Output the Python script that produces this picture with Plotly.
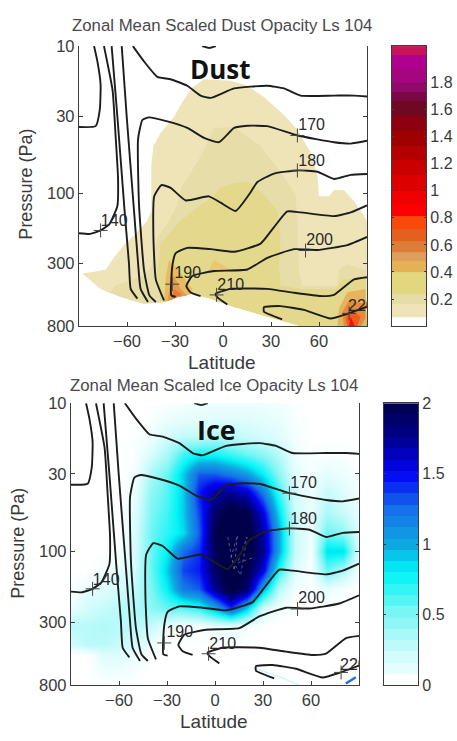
import plotly.graph_objects as go

W, H = 457, 741

# ---------- temperature contours (shared by both panels): latitude, pressure ----------
c140a_lat = [-90, -79.6, -77, -76.5, -78.5, -80.6]
c140a_p = [35.5, 35, 27, 18.2, 12.7, 10]
c140b_lat = [-90, -83, -76.5, -71, -66, -65.6, -67, -69, -74.4]
c140b_p = [187, 189, 179, 162, 122, 79, 43, 20, 10]
c150a_lat = [-69.6, -66, -61.5, -58.8, -57.7, -53.5]
c150a_p = [10, 30.2, 132, 297, 447, 520]
c150b_lat = [-63.3, -60.2, -55.6, -53.1, -51.5, -46.9]
c150b_p = [10, 30, 132, 297, 447, 549]
c160_lat = [-56.3, -49.4, -41, -32.7, -22.3, -14, -7.7, 6.9, 27.7, 38.1, 48.5, 69.4, 81.9, 90]
c160_p = [10, 12.7, 16.2, 16.8, 18.6, 21.7, 22.5, 19.4, 18.6, 19.4, 21.7, 21.7, 21.7, 22]
c160top_lat = [-13, -8.5, -4.5]
c160top_p = [10, 10.3, 10]
c170_lat = [-42, -46, -49.4, -52.5, -53.1, -50.4, -46.3, -34.8, -22.3, -11.9, -2.5, 6.9, 15.2, 27.7, 46.5, 69.4, 79.8, 90]
c170_p = [549, 495, 330, 119, 43, 31.8, 30.5, 32.5, 36, 42, 45, 36, 34.8, 35, 40.5, 45, 46, 44]
c180_lat = [-36.9, -42, -43.5, -43, -38.5, -32.7, -23.3, -8.8, -1.5, 7.9, 16.3, 21.5, 31.9, 46.5, 59, 69.4, 79.8, 90]
c180_p = [535, 385, 198, 105, 88, 92, 112, 105, 116, 132, 102, 84, 73.5, 70, 71.5, 80, 75, 74]
c190_lat = [-29.6, -32.3, -31.7, -29.6, -22.3, -7.7, 6.9, 23.5, 31.9, 40.2, 48.5, 69.4, 79.8, 90]
c190_p = [505, 495, 314, 256, 235, 240, 250, 220, 170, 133, 135, 143, 135, 121]
c200_lat = [-14, -20.2, -22.9, -19.2, -5.6, 15.2, 27.7, 44.4, 59, 77.7, 90]
c200_p = [500, 473, 428, 365, 338, 330, 275, 240, 243, 225, 198]
c210_lat = [2.7, -3.5, -4.6, 4.8, 27.7, 44.4, 61, 69.4, 81.9, 90]
c210_p = [570, 510, 483, 447, 447, 475, 500, 490, 385, 372]
c220_lat = [37, 25.6, 25.6, 36, 50.6, 67.3, 77.7, 90]
c220_p = [720, 640, 595, 585, 620, 710, 660, 590]
contour_lines = [(c140a_lat, c140a_p), (c140b_lat, c140b_p), (c150a_lat, c150a_p), (c150b_lat, c150b_p),
                 (c160_lat, c160_p), (c160top_lat, c160top_p), (c170_lat, c170_p), (c180_lat, c180_p),
                 (c190_lat, c190_p), (c200_lat, c200_p), (c210_lat, c210_p), (c220_lat, c220_p)]

label_text = ["140", "170", "180", "190", "200", "210", "220"]
label_lat = [-68, 55.4, 55.4, -22, 60.4, 4.8, 86.5]
label_p = [158, 35, 61, 355, 210, 430, 590]
cross_lat = [-76.5, 46.5, 46.5, -31.7, 51.6, -4, 78.8]
cross_p = [179, 40.5, 70, 415, 245, 491, 656]

# ---------- dust opacity regions ----------
terrain_lat = [-88, -76.5, -64, -49.4, -36.9, -28.5, -19.2, -7.7, 6.9, 27.7, 48.5]
terrain_p = [351, 448, 508, 564, 550, 508, 483, 522, 593, 690, 800]
dust1_upper_lat = [90, 90, 81.9, 75.6, 69.4, 66.3, 60, 59, 54.8, 46.5, 38.1, 25.6, 15.2, 4.8, -11.9, -19.2, -25.4,
                   -30.6, -39, -43.5, -44.8, -44.8, -47.3, -55.6, -61.9, -69.2, -73.3, -78.5]
dust1_upper_p = [800, 154, 113, 95, 95, 105, 105, 75.5, 52.8, 37, 29.4, 22.2, 18.6, 17.2, 16.8, 19.1, 24,
                 30.2, 38.9, 47.7, 64.7, 132, 154, 193, 225, 283, 330, 339]
dust2_upper_lat = [-70, -68, -55.6, -47.3, -44.2, -41, -34.8, -28.5, -25.4, -16, -8.8, -5.6, 6.9, 23.5, 36, 45.4,
                   46.5, 47.5, 49.6, 71.5, 72.5, 77.7, 89, 90]
dust2_upper_p = [471, 426, 385, 348, 298, 198, 162, 119, 88, 61.5, 43, 36, 35.5, 47.7, 71.6, 102,
                 154, 330, 426, 426, 330, 305, 330, 800]
dust3_upper_lat = [-39, -41, -39, -26.5, -16, -7.7, -1.5, 6.9, 15.2, 25.6, 34, 36, 35, 36, 49.6, 70.4, 74.6, 89, 90]
dust3_upper_p = [536, 366, 220, 154, 125, 108, 92, 85.7, 83.6, 102, 132, 198, 313, 426, 448, 448, 385, 375, 800]
dust_patch_lat = [-5.6, 4.8, -5.6, -9.8]
dust_patch_p = [283, 330, 348, 348]
spot1a_lat = [-33.8, -26.5, -19.2, -19.2, -28.5, -36.9, -35.8]
spot1a_p = [283, 348, 448, 483, 508, 550, 385]
spot1b_lat = [-31.7, -26.5, -22.3, -28.5, -34.8]
spot1b_p = [348, 448, 496, 510, 543]
spot1c_lat = [-30.6, -25.4, -32.7]
spot1c_p = [447, 490, 530]
spot2a_lat = [77.7, 89, 90, 71.5, 72.5]
spot2a_p = [471, 448, 800, 800, 608]
spot2b_lat = [78.8, 89, 89, 86, 75.6, 74.6]
spot2b_p = [536, 564, 708, 800, 800, 640]
spot2c_lat = [79.8, 86, 84, 77.7, 76.7]
spot2c_p = [608, 690, 800, 800, 708]
spot2d_lat = [79.8, 82.3, 78.8]
spot2d_p = [690, 800, 800]

# ---------- ice opacity grid ----------
ice_lat = [-90, -80, -70, -60, -50, -40, -30, -20, -10, 0, 10, 20, 30, 40, 50, 60, 70, 80, 90]
ice_p = [10, 13, 17, 22, 30, 40, 55, 75, 100, 135, 180, 240, 320, 420, 500, 800]
ice_values = [
    [0, 0, 0, 0, 0, 0, .02, .05, .08, .08, .08, .08, .08, .06, .02, 0, 0, 0, 0],
    [0, 0, 0, 0, 0, .03, .1, .12, .12, .15, .15, .15, .12, .1, .03, 0, 0, 0, 0],
    [0, 0, 0, 0, .02, .08, .2, .28, .3, .35, .3, .25, .2, .15, .05, 0, 0, 0, 0],
    [0, 0, 0, 0, .03, .18, .35, .65, .75, .75, .65, .55, .45, .3, .08, .02, .02, .02, 0],
    [0, 0, 0, 0, .06, .35, .55, .9, 1.3, 1.3, 1.2, 1.05, .8, .45, .12, .05, .12, .08, .03],
    [0, 0, 0, 0, .1, .45, .6, .9, 1.45, 1.7, 1.75, 1.6, 1.2, .65, .18, .08, .25, .15, .05],
    [0, 0, 0, .02, .15, .5, .65, .9, 1.35, 1.9, 2.1, 2.0, 1.55, .85, .22, .1, .35, .25, .1],
    [0, 0, 0, .02, .18, .55, .7, .85, 1.3, 2.0, 2.2, 2.1, 1.7, 1.0, .25, .08, .55, .45, .15],
    [0, 0, 0, .03, .2, .55, .8, 1.25, 1.4, 1.95, 2.2, 2.1, 1.75, 1.0, .25, .05, .85, .85, .15],
    [0, 0, .05, .1, .22, .55, .9, 1.35, 1.45, 1.9, 2.15, 2.0, 1.55, .7, .15, .03, .55, .35, .05],
    [.03, .1, .15, .2, .28, .5, .8, 1.2, 1.3, 1.75, 2.1, 1.85, 1.0, .3, .05, .02, .1, .03, 0],
    [.1, .2, .25, .3, .33, .45, .55, .6, .7, 1.0, 1.4, .9, .2, .05, 0, 0, 0, 0, 0],
    [.3, .3, .33, .3, .3, .25, .1, .03, .03, .1, .12, .05, 0, 0, 0, 0, 0, 0, 0],
    [.2, .3, .3, .25, .2, .08, 0, 0, 0, 0, 0, 0, 0, 0, 0, 0, 0, 0, 0],
    [0, 0, .15, .15, .08, 0, 0, 0, 0, 0, 0, 0, 0, 0, 0, 0, 0, 0, 0],
    [0, 0, 0, 0, 0, 0, 0, 0, 0, 0, 0, 0, 0, 0, 0, 0, 0, 0, 0],
]
streak_blue_lat = [81.8, 88]
streak_blue_p = [780, 708]
streak_pale_lat = [24, 40, 53]
streak_pale_p = [610, 700, 800]
scribble_lat = [8, 12, 14, 10, 16, 20, 14, 24]
scribble_p = [80, 135, 78, 110, 145, 80, 120, 110]

# ---------- colour bars ----------
dust_cb_edges = [0, .07, .16, .24, .40, .48, .55, .63, .72, .81, .90, 1.0, 1.12, 1.23, 1.33, 1.44, 1.55, 1.66, 1.73, 1.8, 1.91, 2.0, 2.07]
dust_cb_colors = ["#ffffff", "#efe4b8", "#e6dca9", "#e2d67e", "#e3b254", "#de9c5d", "#de7c3a", "#e4601f", "#f94a0c",
                  "#ff0000", "#f00000", "#dd0000", "#c80000", "#b40000", "#9f0000", "#8c0010", "#6f0820", "#7a0845",
                  "#8f0a6a", "#a5057f", "#b00090", "#c8145a"]
dust_ticks = [.2, .4, .6, .8, 1, 1.2, 1.4, 1.6, 1.8]
dust_ticklabels = ["0.2", "0.4", "0.6", "0.8", "1", "1.2", "1.4", "1.6", "1.8"]
ice_scale = [[0, "#ffffff"], [.125, "#c8fbfb"], [.25, "#80f6f4"], [.4, "#00f4f6"], [.5, "#0ea8e0"],
             [.625, "#1670ea"], [.75, "#0404f5"], [.875, "#00008f"], [1, "#00004a"]]
ice_cb_edges = [0, .08, .16, .24, .32, .40, .48, .56, .64, .72, .80, .88, .96, 1.04, 1.12, 1.20, 1.28, 1.36, 1.44,
                1.52, 1.60, 1.68, 1.76, 1.84, 1.92, 2.0]
ice_cb_levels = [.0, .12, .20, .28, .36, .44, .52, .60, .68, .76, .84, .92, 1.0, 1.08, 1.16, 1.24, 1.32, 1.40, 1.48,
                 1.56, 1.64, 1.72, 1.80, 1.88, 1.96]
ice_ticks = [0, .5, 1, 1.5, 2]
ice_ticklabels = ["0", "0.5", "1", "1.5", "2"]

pressure_ticks = [10, 30, 100, 300, 800]
lat_ticks = [-60, -30, 0, 30, 60]

TXT = "#3a3a3a"
FONT = "Liberation Sans"
fig = go.Figure()


def polygon(lat, p, color, xa, ya):
    fig.add_trace(go.Scatter(x=lat, y=p, mode="lines", fill="toself", fillcolor=color, line=dict(width=0),
                             hoverinfo="skip", showlegend=False, xaxis=xa, yaxis=ya))


def overlays(xa, ya):
    for lat, p in contour_lines:
        fig.add_trace(go.Scatter(x=lat, y=p, mode="lines", line=dict(color="#1d1d1d", width=1.9, shape="spline", smoothing=0.45),
                                 hoverinfo="skip", showlegend=False, xaxis=xa, yaxis=ya))
    fig.add_trace(go.Scatter(x=cross_lat, y=cross_p, mode="markers", hoverinfo="skip", showlegend=False,
                             marker=dict(symbol="cross-thin", size=10, line=dict(width=1, color="#444444")), xaxis=xa, yaxis=ya))
    fig.add_trace(go.Scatter(x=label_lat, y=label_p, mode="text", text=label_text, cliponaxis=True, hoverinfo="skip",
                             showlegend=False, textfont=dict(family=FONT, size=16, color="#2a2a2a"), xaxis=xa, yaxis=ya))


# Dust panel
trev_lat, trev_p = terrain_lat[::-1], terrain_p[::-1]
polygon(terrain_lat + dust1_upper_lat, terrain_p + dust1_upper_p, "#efe4b8", "x", "y")
polygon(dust2_upper_lat + trev_lat[:-1], dust2_upper_p + trev_p[:-1], "#e7dda9", "x", "y")
polygon(dust3_upper_lat + trev_lat[:7], dust3_upper_p + trev_p[:7], "#e3d88c", "x", "y")
polygon(dust_patch_lat, dust_patch_p, "#e6c877", "x", "y")
polygon(spot1a_lat, spot1a_p, "#e8bb62", "x", "y")
polygon(spot1b_lat, spot1b_p, "#e49a4f", "x", "y")
polygon(spot1c_lat, spot1c_p, "#e9793a", "x", "y")
polygon(spot2a_lat, spot2a_p, "#e6b45a", "x", "y")
polygon(spot2b_lat, spot2b_p, "#e68a3c", "x", "y")
polygon(spot2c_lat, spot2c_p, "#f25c18", "x", "y")
polygon(spot2d_lat, spot2d_p, "#ff0a00", "x", "y")
overlays("x", "y")

# Dust colour bar
n = len(dust_cb_colors)
fig.add_trace(go.Heatmap(x=[0, 1], y=dust_cb_edges, z=[[i] for i in range(n)], zmin=0, zmax=n - 1,
                         colorscale=[[i / (n - 1), c] for i, c in enumerate(dust_cb_colors)],
                         showscale=False, hoverinfo="skip", xaxis="x2", yaxis="y2"))

# Ice panel
fig.add_trace(go.Heatmap(x=ice_lat, y=ice_p, z=ice_values, zmin=0, zmax=2, colorscale=ice_scale, zsmooth="best",
                         showscale=False, hoverinfo="skip", xaxis="x3", yaxis="y3"))
fig.add_trace(go.Scatter(x=streak_pale_lat, y=streak_pale_p, mode="lines", line=dict(color="#c8fbfb", width=1.5),
                         hoverinfo="skip", showlegend=False, xaxis="x3", yaxis="y3"))
fig.add_trace(go.Scatter(x=streak_blue_lat, y=streak_blue_p, mode="lines", line=dict(color="#1670ea", width=2.5),
                         hoverinfo="skip", showlegend=False, xaxis="x3", yaxis="y3"))
fig.add_trace(go.Scatter(x=scribble_lat, y=scribble_p, mode="lines", line=dict(color="#6f7f9f", width=0.7, dash="dot"),
                         hoverinfo="skip", showlegend=False, xaxis="x3", yaxis="y3"))
overlays("x3", "y3")

# Ice colour bar
fig.add_trace(go.Heatmap(x=[0, 1], y=ice_cb_edges, z=[[v] for v in ice_cb_levels], zmin=0, zmax=2, colorscale=ice_scale,
                         showscale=False, hoverinfo="skip", xaxis="x4", yaxis="y4"))


def xdom(a, b):
    return [a / W, b / W]


def ydom(top, bottom):
    return [1 - bottom / H, 1 - top / H]


axis_line = dict(showline=True, linecolor="#3c3c3c", linewidth=1.3, showgrid=False, zeroline=False, ticks="inside",
                 ticklen=4, tickcolor="#3c3c3c", tickfont=dict(family=FONT, size=16.5, color=TXT))


def panel_axes(xname, yname, xd, yd, yanchor_name, xanchor_name):
    fig.layout[xname] = dict(axis_line, domain=xd, range=[-90, 90], tickvals=lat_ticks, anchor=yanchor_name, mirror=False)
    fig.layout[yname] = dict(axis_line, domain=yd, type="log", range=[2.90309, 1], tickvals=pressure_ticks,
                             ticktext=[str(v) for v in pressure_ticks], anchor=xanchor_name, mirror="ticks")


def cb_axes(xname, yname, xd, yd, rng, vals, text, yanchor_name, xanchor_name):
    fig.layout[xname] = dict(domain=xd, range=[0, 1], showticklabels=False, ticks="", showline=True, mirror=True,
                             linecolor="#3c3c3c", linewidth=1.3, showgrid=False, zeroline=False, anchor=yanchor_name)
    fig.layout[yname] = dict(axis_line, domain=yd, range=rng, side="right", tickvals=vals, ticktext=text, ticklen=2,
                             mirror="ticks", anchor=xanchor_name, tickfont=dict(family=FONT, size=16, color=TXT))


panel_axes("xaxis", "yaxis", xdom(79, 367), ydom(38, 325), "y", "x")
cb_axes("xaxis2", "yaxis2", xdom(392, 426), ydom(38, 325), [0, 2.07], dust_ticks, dust_ticklabels, "y2", "x2")
panel_axes("xaxis3", "yaxis3", xdom(71, 359), ydom(404, 693), "y3", "x3")
cb_axes("xaxis4", "yaxis4", xdom(384, 418), ydom(404, 693), [0, 2], ice_ticks, ice_ticklabels, "y4", "x4")


def note(text, x, y, size, color=TXT, family=FONT, angle=0, bold=False):
    fig.add_annotation(text=f"<b>{text}</b>" if bold else text, x=x / W, y=1 - y / H, xref="paper", yref="paper",
                       xanchor="center", yanchor="middle", showarrow=False, textangle=angle,
                       font=dict(family=family, size=size, color=color))


note("Zonal Mean Scaled Dust Opacity Ls 104", 222, 17, 16.8, "#4a4a4a")
note("Zonal Mean Scaled Ice Opacity Ls 104", 214, 386, 16.8, "#4a4a4a")
note("Pressure (Pa)", 26, 180, 18, angle=-90)
note("Pressure (Pa)", 18, 548, 18, angle=-90)
note("Latitude", 222, 362, 19)
note("Latitude", 214, 730, 19)
note("Dust", 220, 62, 26, "#111111", "Open Sans", bold=True)
note("Ice", 216, 431, 27, "#111111", "Open Sans", bold=True)

fig.update_layout(width=W, height=H, autosize=False, margin=dict(l=0, r=0, t=0, b=0), paper_bgcolor="white",
                  plot_bgcolor="white", showlegend=False)
fig.write_html("out.html", config=dict(displayModeBar=False), post_script="document.body.style.margin='0';")
